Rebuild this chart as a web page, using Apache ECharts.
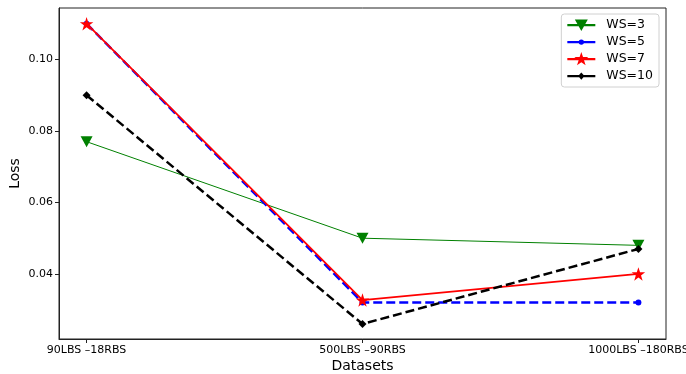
<!DOCTYPE html>
<html><head><meta charset="utf-8">
<script src="https://cdn.jsdelivr.net/npm/echarts@6/dist/echarts.min.js"></script>
<style>html,body{margin:0;padding:0;background:#fff}#c{width:686px;height:374px}</style>
</head><body><div id="c"></div>
<script>
const categories = ['90LBS \u201318RBS', '500LBS \u201390RBS', '1000LBS \u2013180RBS'];
const seriesNames = ['WS=3', 'WS=5', 'WS=7', 'WS=10'];
const ws3 = [0.077, 0.050, 0.048];
const ws5 = [0.110, 0.032, 0.032];
const ws7 = [0.110, 0.0327, 0.040];
const ws10 = [0.090, 0.026, 0.047];
const yTicks = [0.04, 0.06, 0.08, 0.10];

const star = 'path://M50,0 L61.8,35.5 L99,35.5 L69,57.5 L80.5,93 L50,71 L19.5,93 L31,57.5 L1,35.5 L38.2,35.5 Z';
const font = 'DejaVu Sans';
const pts = arr => arr.map((v, i) => [i, v]);

// legend icons: horizontal line + marker, viewbox 28 x 14 (corner dots fix the box)
const box = 'M0,0 L0.01,0 L0.01,0.01 Z M27.99,13.99 L28,13.99 L28,14 Z ';
const bar = box + 'M0,6 L28,6 L28,8.2 L0,8.2 Z ';
const legendIcons = [
  'path://' + bar + 'M7.5,1.5 L20.5,1.5 L14,13 Z',
  'path://' + bar + 'M11.3,7.1 A2.7,2.7 0 1 1 16.7,7.1 A2.7,2.7 0 1 1 11.3,7.1 Z',
  'path://' + bar + 'M14,0 L15.7,5 L21,5 L16.7,8.2 L18.3,13.3 L14,10.2 L9.7,13.3 L11.3,8.2 L7,5 L12.3,5 Z',
  'path://' + bar + 'M14,3.4 L17.2,7.1 L14,10.8 L10.8,7.1 Z'
];
const colors = ['#008000', '#0000ff', '#ff0000', '#000000'];

const chart = echarts.init(document.getElementById('c'), null, {renderer: 'canvas'});
chart.setOption({
  animation: false,
  textStyle: {fontFamily: font},
  grid: {left: 59, right: 20, top: 8, bottom: 35, outerBoundsMode: 'none', containLabel: false,
         show: true, borderColor: '#222', borderWidth: 1, backgroundColor: 'transparent'},
  legend: {
    right: 27, top: 14, orient: 'vertical', itemGap: 3, itemWidth: 28, itemHeight: 14,
    borderColor: '#d0d0d0', borderWidth: 1, borderRadius: 3, padding: [4, 6, 4, 6],
    textStyle: {fontFamily: font, fontSize: 12.5, color: '#000', padding: [0, 0, 0, 6]},
    data: seriesNames.map((n, i) => ({name: n, icon: legendIcons[i], itemStyle: {color: colors[i]}}))
  },
  xAxis: {
    type: 'value', min: -0.1, max: 2.1,
    name: 'Datasets', nameLocation: 'middle', nameGap: 20, nameMoveOverlap: false,
    nameTextStyle: {fontFamily: font, fontSize: 14, color: '#000'},
    axisLine: {show: true, onZero: false, lineStyle: {color: '#222'}},
    axisTick: {show: true, customValues: [0, 1, 2], length: 4, lineStyle: {color: '#222'}},
    axisLabel: {customValues: [0, 1, 2], formatter: v => categories[Math.round(v)], fontSize: 11, color: '#000', margin: 6, fontFamily: font},
    splitLine: {show: false}
  },
  yAxis: {
    type: 'value', min: 0.0218, max: 0.1144,
    name: 'Loss', nameLocation: 'middle', nameGap: 37, nameMoveOverlap: false,
    nameTextStyle: {fontFamily: font, fontSize: 14, color: '#000'},
    axisLine: {show: true, onZero: false, lineStyle: {color: '#222'}},
    axisTick: {show: true, customValues: yTicks, length: 4, lineStyle: {color: '#222'}},
    axisLabel: {customValues: yTicks, formatter: v => v.toFixed(2), fontSize: 11, color: '#000', margin: 6, fontFamily: font},
    splitLine: {show: false}
  },
  series: [
    {name: 'WS=3', type: 'line', data: pts(ws3), color: colors[0],
     lineStyle: {width: 1, color: colors[0]}, symbol: 'triangle', symbolRotate: 180, symbolSize: [12, 11],
     itemStyle: {color: colors[0]}},
    {name: 'WS=5', type: 'line', data: pts(ws5), color: colors[1],
     lineStyle: {width: 2.5, type: [9, 4], color: colors[1]}, symbol: 'circle', symbolSize: 6,
     itemStyle: {color: colors[1]}},
    {name: 'WS=7', type: 'line', data: pts(ws7), color: colors[2],
     lineStyle: {width: 1.8, color: colors[2]}, symbol: star, symbolSize: 13.5,
     itemStyle: {color: colors[2]}},
    {name: 'WS=10', type: 'line', data: pts(ws10), color: colors[3],
     lineStyle: {width: 2.5, type: [9, 4], color: colors[3]}, symbol: 'diamond', symbolSize: 8,
     itemStyle: {color: colors[3]}}
  ]
});
</script></body></html>
